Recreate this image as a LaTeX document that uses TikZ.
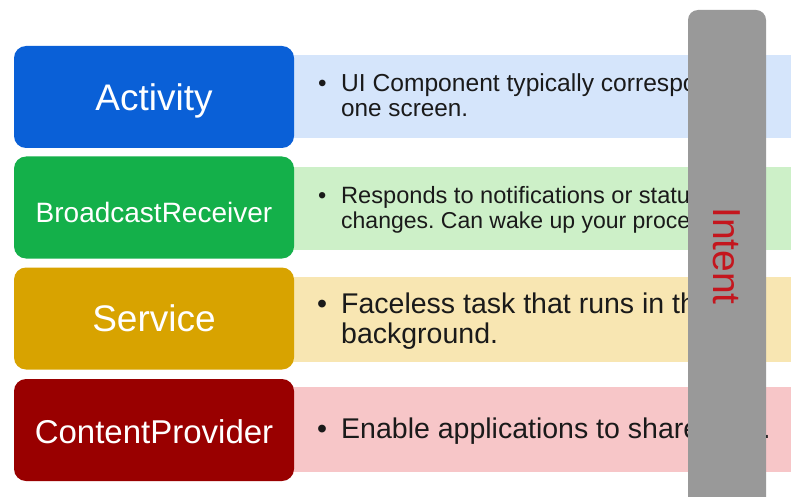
\documentclass[tikz,border=0pt]{standalone}
\usepackage{fontspec}
\setmainfont{Liberation Sans}
\frenchspacing

% component colours
\definecolor{actblue}{RGB}{10,96,215}
\definecolor{brgreen}{RGB}{20,176,74}
\definecolor{svyellow}{RGB}{216,163,0}
\definecolor{cpred}{RGB}{153,0,0}
\definecolor{actlight}{RGB}{213,229,251}
\definecolor{brlight}{RGB}{205,240,200}
\definecolor{svlight}{RGB}{248,230,178}
\definecolor{cplight}{RGB}{247,198,200}
\definecolor{intentgray}{RGB}{153,153,153}
\definecolor{intentred}{RGB}{196,22,30}
\definecolor{desctext}{RGB}{26,26,26}

% boxes centre their label on a fixed height above the baseline (no depth)
\tikzset{
  compbox/.style={rounded corners=12pt, minimum width=280pt, minimum height=102pt,
    inner sep=0pt, text=white, anchor=center, text depth=0pt},
  descline/.style={anchor=base west, inner sep=0pt, text=desctext},
  bulletmark/.style={anchor=base west, inner sep=0pt, text=desctext},
}

\begin{document}
\begin{tikzpicture}[x=1pt,y=-1pt]
\useasboundingbox (0,0) rectangle (791,497);
\clip (0,0) rectangle (791,497);
\fill[white] (0,0) rectangle (791,497);

% light description bands
\fill[actlight] (290,55) rectangle (791,138);
\fill[brlight]  (290,167) rectangle (791,250);
\fill[svlight]  (290,277) rectangle (791,362);
\fill[cplight]  (290,387) rectangle (791,472);

% Activity description
\node[bulletmark, font=\fontsize{24.3}{25}\selectfont] (actb) at (318,92) {•};
\node[descline, font=\fontsize{24.6}{25}\selectfont] (actd1) at (341,92) {UI Component typically corresponds to};
\node[descline, font=\fontsize{24.3}{25}\selectfont] (actd2) at (341,117) {one screen.};

% BroadcastReceiver description
\node[bulletmark, font=\fontsize{23.5}{25}\selectfont] (brb) at (318,203) {•};
\node[descline, font=\fontsize{23.6}{25}\selectfont] (brd1) at (341,203) {Responds to notifications or status};
\node[descline, font=\fontsize{23}{25}\selectfont] (brd2) at (341,228) {changes. Can wake up your process.};

% Service description
\node[bulletmark, font=\fontsize{28.5}{30}\selectfont] (svb) at (317,313) {•};
\node[descline, font=\fontsize{28.5}{30}\selectfont] (svd1) at (341,313) {Faceless task that runs in the};
\node[descline, font=\fontsize{28.5}{30}\selectfont] (svd2) at (341,343) {background.};

% ContentProvider description
\node[bulletmark, font=\fontsize{28.5}{30}\selectfont] (cpb) at (317,438) {•};
\node[descline, font=\fontsize{28.5}{30}\selectfont] (cpd1) at (341,438) {Enable applications to share data.};

% Intent bar across all components
\fill[intentgray, rounded corners=10pt] (688,10) rectangle (766,530);
\node[rotate=-90, text=intentred, font=\fontsize{39}{40}\selectfont, inner sep=0pt] (intent) at (727,256) {Intent};

% component boxes
\node[compbox, fill=actblue, font=\fontsize{37}{40}\selectfont, text height=26.5pt] (activity) at (154,97) {Activity};
\node[compbox, fill=brgreen, font=\fontsize{28}{30}\selectfont, text height=29pt] (receiver) at (154,207.5) {BroadcastReceiver};
\node[compbox, fill=svyellow, font=\fontsize{37}{40}\selectfont, text height=26.5pt] (service) at (154,318.5) {Service};
\node[compbox, fill=cpred, font=\fontsize{33}{36}\selectfont, text height=27pt] (provider) at (154,430) {ContentProvider};
\end{tikzpicture}
\end{document}
